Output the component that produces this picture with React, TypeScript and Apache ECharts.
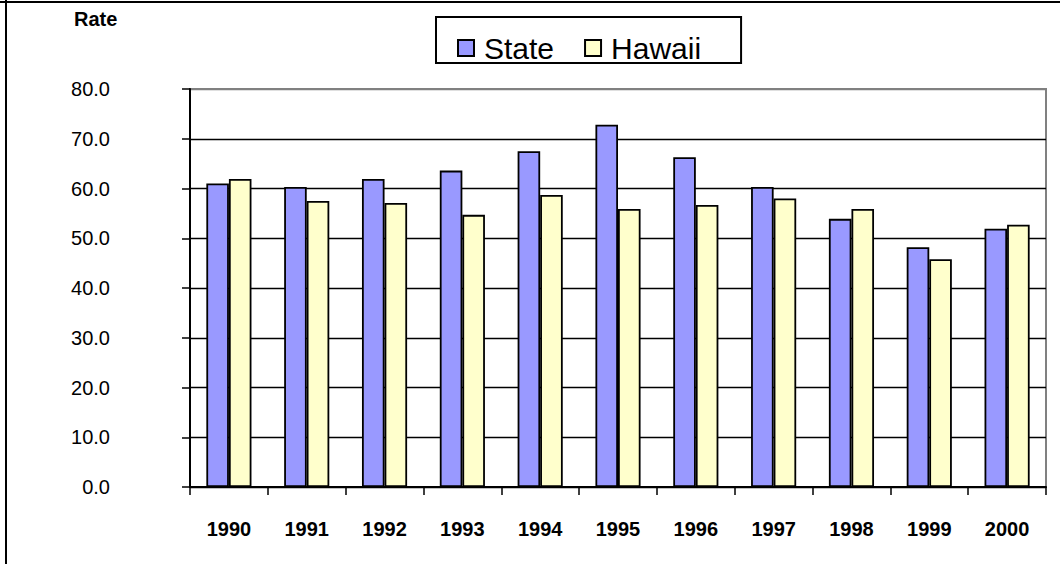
import React, { useEffect, useRef } from "react";
import * as echarts from "echarts";

const years = ["1990", "1991", "1992", "1993", "1994", "1995", "1996", "1997", "1998", "1999", "2000"];
const stateRates = [61.0, 60.3, 61.9, 63.6, 67.5, 72.8, 66.3, 60.3, 53.9, 48.2, 51.9];
const hawaiiRates = [61.9, 57.5, 57.1, 54.7, 58.7, 55.9, 56.7, 58.0, 55.9, 45.8, 52.7];
const seriesNames = ["State", "Hawaii"];
const yAxisTitle = "Rate";

const FONT = "'Liberation Sans', Arial, sans-serif";

export default function App() {
  const ref = useRef<HTMLDivElement>(null);

  useEffect(() => {
    if (!ref.current) return;
    const chart = echarts.init(ref.current, null, { renderer: "svg" });
    const splitColors = ["#000", "#000", "#000", "#000", "#000", "#000", "#000", "#000", "#808080"];
    chart.setOption({
      animation: false,
      backgroundColor: "#fff",
      textStyle: { fontFamily: FONT },
      title: {
        text: yAxisTitle,
        left: 74,
        top: 9,
        padding: 0,
        textStyle: { fontFamily: FONT, fontSize: 20, fontWeight: "bold", color: "#000" },
      },
      legend: {
        data: seriesNames,
        left: 436,
        top: 17,
        orient: "horizontal",
        padding: [16, 40, 0, 21],
        itemGap: 30,
        itemWidth: 16,
        itemHeight: 16,
        icon: "rect",
        borderColor: "#000",
        borderWidth: 2,
        borderRadius: 0,
        textStyle: { fontFamily: FONT, fontSize: 30, lineHeight: 30, color: "#000", padding: [0, 0, 0, 5] },
      },
      grid: {
        left: 190,
        right: 14,
        top: 89,
        bottom: 77,
        show: true,
        borderColor: "#808080",
        borderWidth: 2,
        backgroundColor: "transparent",
      },
      xAxis: {
        type: "category",
        data: years,
        boundaryGap: true,
        axisLine: { show: true, lineStyle: { color: "#000", width: 2 } },
        axisTick: { show: true, alignWithLabel: false, length: 8, lineStyle: { color: "#000", width: 1.5 } },
        axisLabel: {
          margin: 32,
          fontFamily: FONT,
          fontSize: 20,
          fontWeight: "bold",
          color: "#000",
        },
        splitLine: { show: false },
      },
      yAxis: {
        type: "value",
        min: 0,
        max: 80,
        interval: 10,
        axisLine: { show: true, lineStyle: { color: "#000", width: 2 } },
        axisTick: { show: true, length: 8, lineStyle: { color: "#000", width: 1.5 } },
        axisLabel: {
          margin: 80,
          fontFamily: FONT,
          fontSize: 20,
          color: "#000",
          formatter: (v: number) => v.toFixed(1),
        },
        splitLine: {
          show: true,
          showMinLine: true,
          showMaxLine: true,
          lineStyle: { color: splitColors, width: 1.4 },
        },
      },
      series: [
        {
          name: seriesNames[0],
          type: "bar",
          data: stateRates,
          barGap: "0%",
          barCategoryGap: "42%",
          itemStyle: { color: "#9999FF", borderColor: "#000", borderWidth: 1.8 },
        },
        {
          name: seriesNames[1],
          type: "bar",
          data: hawaiiRates,
          barGap: "0%",
          barCategoryGap: "42%",
          itemStyle: { color: "#FFFFCC", borderColor: "#000", borderWidth: 1.8 },
        },
      ],
      graphic: [
        { type: "line", shape: { x1: 0, y1: 2, x2: 1060, y2: 2 }, style: { stroke: "#000", lineWidth: 2 }, silent: true },
        { type: "line", shape: { x1: 6, y1: 0, x2: 6, y2: 564 }, style: { stroke: "#000", lineWidth: 2 }, silent: true },
      ],
    });
    return () => chart.dispose();
  }, []);

  return (
    <div
      ref={ref}
      style={{ position: "absolute", left: 0, top: 0, width: 1060, height: 564 }}
    />
  );
}
